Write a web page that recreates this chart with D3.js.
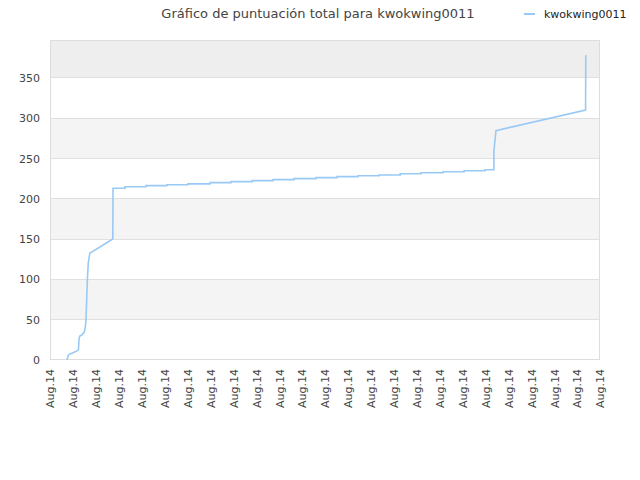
<!DOCTYPE html>
<html><head><meta charset="utf-8">
<script src="https://cdn.jsdelivr.net/npm/d3@7"></script>
<style>body{margin:0;background:#fff;}text{font-family:"DejaVu Sans",sans-serif;}</style>
</head><body><svg id="c" width="640" height="480"></svg>
<script>
const title = "Gráfico de puntuación total para kwokwing0011";
const seriesName = "kwokwing0011";
const xTickLabels = d3.range(25).map(() => "Aug.14");
const yTicks = [0, 50, 100, 150, 200, 250, 300, 350];
// time positions (tick units) and cumulative score values
const times = [0.74, 0.80, 0.87, 1.01, 1.09, 1.16, 1.24, 1.27, 1.31, 1.38, 1.49, 1.53, 1.56, 1.57, 1.60, 1.63, 1.67, 1.74, 1.82, 1.83, 2.74, 2.75, 2.79,
  2.79, 3.27, 3.27, 4.19, 4.19, 5.10, 5.10, 6.02, 6.02, 6.98, 6.98, 7.90, 7.90, 8.82, 8.82, 9.73, 9.73, 10.65, 10.65, 11.61, 11.61, 12.53, 12.53, 13.44, 13.44, 14.36, 14.36, 15.28, 15.28, 16.19, 16.19, 17.15, 17.15, 18.07, 18.07, 18.98, 18.98,
  19.37, 19.37, 19.46, 23.37, 23.38];
const scores = [0, 6, 7.5, 9, 10.3, 11, 12.4, 27, 30, 31, 34.4, 39.3, 45.6, 49.6, 74.5, 99.3, 120.4, 132.8, 134, 134, 150.2, 213, 213,
  213, 213, 215, 215, 216.3, 216.3, 217.5, 217.5, 218.5, 218.5, 220, 220, 221.3, 221.3, 222.5, 222.5, 223.8, 223.8, 225, 225, 226.3, 226.3, 227.5, 227.5, 228.5, 228.5, 229.6, 229.6, 231, 231, 232.3, 232.3, 233.5, 233.5, 234.8, 234.8, 236,
  236, 259, 284.6, 310, 378];

const svg = d3.select("#c");
const m = {l: 50, r: 40, t: 40, b: 120};
const W = 640, H = 480;
const x = d3.scaleLinear().domain([0, 24]).range([m.l, W - m.r]);
const y = d3.scaleLinear().domain([0, 397]).range([H - m.b, m.t]);

// bands
const bandEdges = yTicks.concat([397]);
const g = svg.append("g");
for (let i = 0; i < bandEdges.length - 1; i++) {
  let fill = i % 2 === 1 ? "#f4f4f4" : "#ffffff";
  if (i === bandEdges.length - 2) fill = "#eeeeee";
  g.append("rect").attr("x", m.l).attr("width", W - m.r - m.l)
    .attr("y", y(bandEdges[i + 1])).attr("height", y(bandEdges[i]) - y(bandEdges[i + 1]))
    .attr("fill", fill);
}
// gridlines
g.selectAll("line.grid").data(yTicks.slice(1)).join("line")
  .attr("x1", m.l).attr("x2", W - m.r).attr("y1", d => y(d)).attr("y2", d => y(d))
  .attr("stroke", "#e0e0e0").attr("stroke-width", 1).attr("shape-rendering", "crispEdges");
// frame
svg.append("rect").attr("x", m.l + 0.5).attr("y", m.t + 0.5).attr("width", W - m.r - m.l - 1).attr("height", H - m.b - m.t - 1)
  .attr("fill", "none").attr("stroke", "#dddddd").attr("shape-rendering", "crispEdges");

// line
const pts = times.map((t, i) => [t, scores[i]]);
svg.append("path").datum(pts)
  .attr("d", d3.line().x(d => x(d[0])).y(d => y(d[1])))
  .attr("fill", "none").attr("stroke", "#99c9f5").attr("stroke-width", 1.6);

// y axis
const ya = svg.append("g").attr("transform", `translate(${m.l},0)`)
  .call(d3.axisLeft(y).tickValues(yTicks).tickSize(0).tickPadding(10));
ya.select(".domain").remove();
ya.selectAll("text").attr("font-size", 11).attr("fill", "#444").style("font-family", "DejaVu Sans");

// x axis
const xa = svg.append("g").attr("transform", `translate(0,${H - m.b})`)
  .call(d3.axisBottom(x).tickValues(d3.range(25)).tickSize(0).tickFormat(i => xTickLabels[i]));
xa.select(".domain").remove();
xa.selectAll("text").attr("font-size", 11).attr("fill", "#444").style("font-family", "DejaVu Sans")
  .attr("text-anchor", "end").attr("dy", "0.35em")
  .attr("transform", "translate(0,9) rotate(-90)").attr("x", 0).attr("y", 0);

// title
svg.append("text").attr("x", 318).attr("y", 18).attr("text-anchor", "middle")
  .attr("font-size", 13).attr("fill", "#444").text(title);
// legend
svg.append("line").attr("x1", 524).attr("x2", 535).attr("y1", 14).attr("y2", 14)
  .attr("stroke", "#99c9f5").attr("stroke-width", 2);
svg.append("text").attr("x", 544).attr("y", 18).attr("font-size", 11).attr("fill", "#222").text(seriesName);
</script></body></html>
